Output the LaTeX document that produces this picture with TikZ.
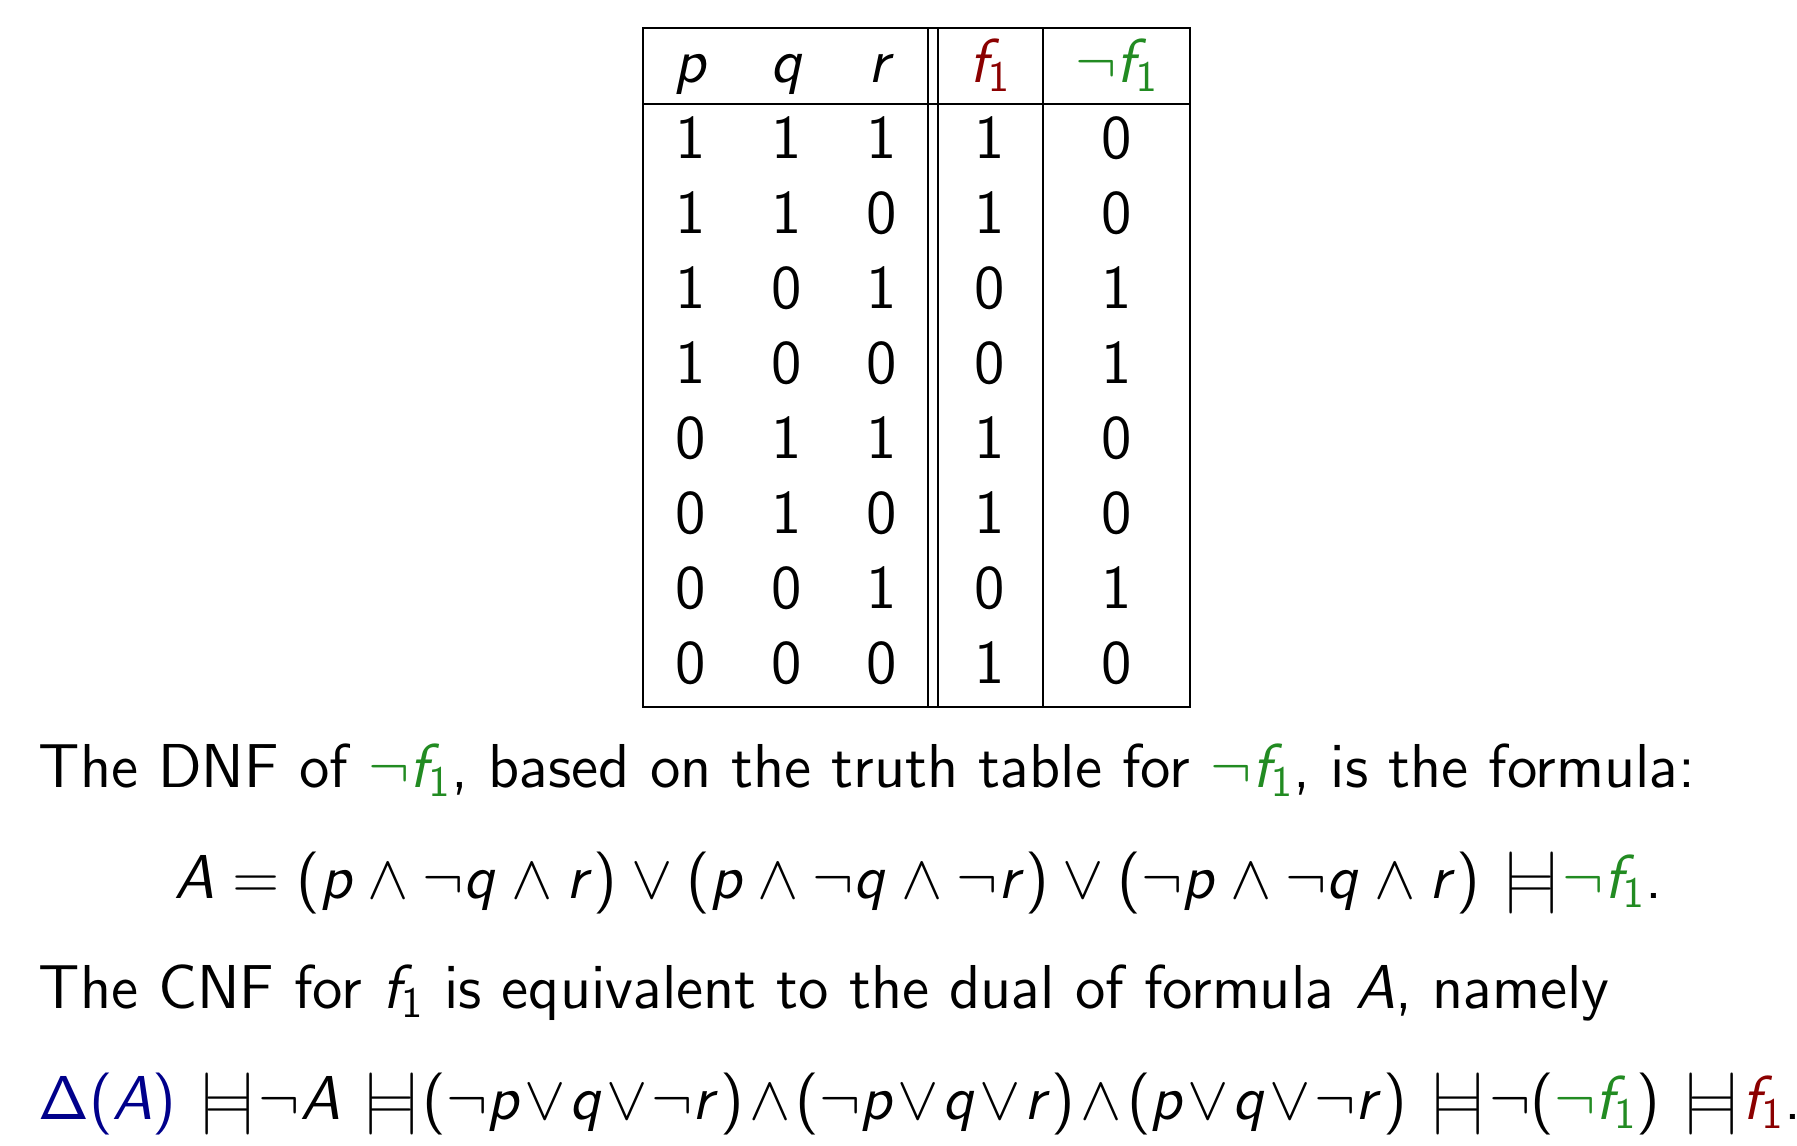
\RequirePackage{fix-cm}
\documentclass[tikz,border=0pt]{standalone}
\usepackage{xcolor}
\usepackage{tikz}
\usetikzlibrary{positioning}
% sans text and math, 12pt design scaled up
\DeclareFontFamily{OT1}{sst}{}
\DeclareFontShape{OT1}{sst}{m}{n}{<->cmss12}{}
\DeclareFontShape{OT1}{sst}{m}{it}{<->cmssi12}{}
\SetSymbolFont{operators}{normal}{OT1}{sst}{m}{n}
\SetSymbolFont{letters}{normal}{OT1}{sst}{m}{it}
\definecolor{fred}{RGB}{139,0,0}
\definecolor{fgreen}{RGB}{34,139,34}
\definecolor{dblue}{RGB}{0,0,139}
\newcommand\eqv{\mkern1.5mu\mathrel{|\mkern-3.5mu{=}\mkern-3.5mu|}\mkern-4.3mu}
\newcommand\tand{\mkern0.5mu\wedge\mkern0.5mu}
\newcommand\fone{{\color{fred}f_1}}
\newcommand\nfone{{\color{fgreen}\neg f_1}}
\newcommand\slidefont{\fontencoding{OT1}\fontfamily{sst}\fontsize{18.6}{22}\selectfont}
\tikzset{
 rule/.style
  = {draw, line width=0.6pt},
 cell/.style
  = {anchor=base, inner sep=0pt, font=\slidefont},
 txt/.style
  = {anchor=base west, inner sep=0pt, font=\slidefont},
}

\begin{document}
\begin{tikzpicture}[x=0.3pt,y=-0.3pt]
\useasboundingbox (0,0) rectangle (1797,1145);

% Table lines
\draw[rule] (643,27.5) rectangle (1190,707);
\draw[rule] (643,104) -- (1190,104);
\draw[rule] (928,27.5) -- (928,707);
\draw[rule] (938,27.5) -- (938,707);
\draw[rule] (1043,27.5) -- (1043,707);

% Table head
\node[cell] (hp) at (691,82) {$p$};
\node[cell] (hq) at (787,82) {$q$};
\node[cell] (hr) at (882,82) {$r$};
\node[cell] (hf) at (990,82) {$\fone$};
\node[cell] (hn) at (1117,82) {$\nfone$};

% Table rows
\foreach \p/\q/\r/\f/\g [count=\i] in {1/1/1/1/0,1/1/0/1/0,1/0/1/0/1,1/0/0/0/1,
                                       0/1/1/1/0,0/1/0/1/0,0/0/1/0/1,0/0/0/1/0}
{
  \node[cell] (p\i) at (691,{158+75*(\i-1)}) {\p};
  \node[cell] (q\i) at (787,{158+75*(\i-1)}) {\q};
  \node[cell] (r\i) at (882,{158+75*(\i-1)}) {\r};
  \node[cell] (f\i) at (990,{158+75*(\i-1)}) {\f};
  \node[cell] (n\i) at (1117,{158+75*(\i-1)}) {\g};
}

% Text below the table
\node[txt] (dnf) at (38,787) {The DNF of $\nfone$, based on the truth table for $\nfone$, is the formula:};
\node[txt] (formA) at (174,898) {$A=(p\wedge\neg q\wedge r)\vee(p\wedge\neg q\wedge\neg r)\vee(\neg p\wedge\neg q\wedge r)\eqv\nfone$.};
\node[txt] (cnf) at (38,1008) {The CNF for $f_1$ is equivalent to the dual of formula $A$, namely};
\node[txt] (dual) at (38,1119) {\medmuskip=1mu
  ${\color{dblue}\Delta(A)}\eqv\neg A\eqv(\neg p\vee q\vee\neg r)\tand(\neg p\vee q\vee r)\tand(p\vee q\vee\neg r)\eqv\neg(\nfone)\eqv\fone$.};

\end{tikzpicture}
\end{document}
